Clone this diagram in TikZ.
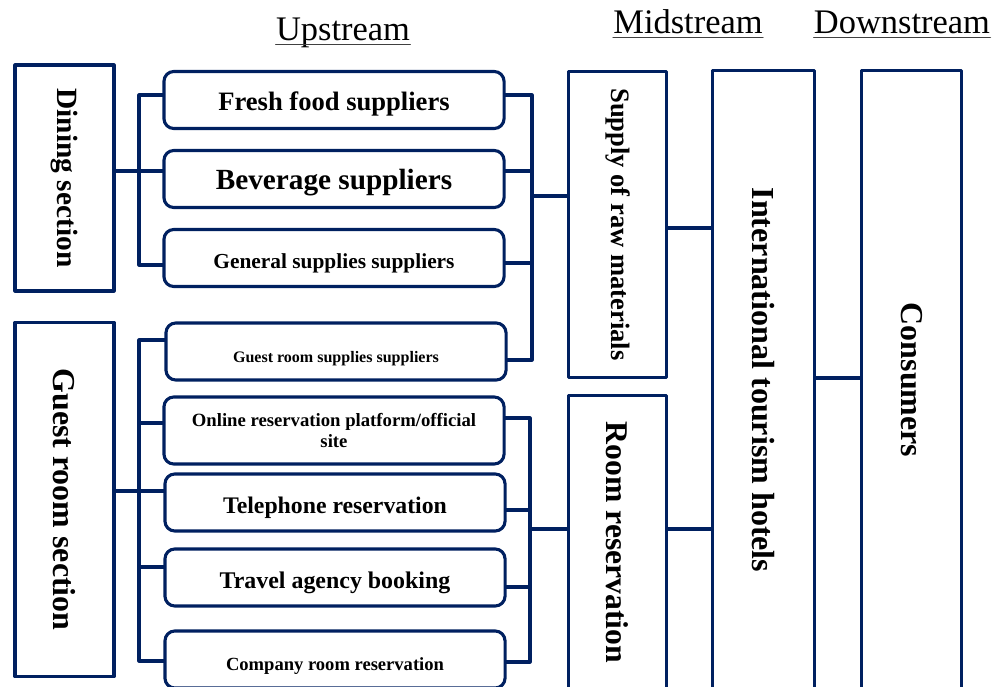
\documentclass[tikz,border=0pt]{standalone}
\usepackage{fontspec}
\setmainfont{Liberation Serif}
\usepackage{graphicx}
\definecolor{navy}{RGB}{0,32,96}
\newcommand{\vlabel}[2]{\rotatebox[origin=c]{-90}{\fontsize{#1}{#1}\selectfont\bfseries #2}}

\begin{document}
\begin{tikzpicture}[x=0.025cm, y=-0.025cm, line cap = round, line join = round]
\tikzstyle{sidebox}=[draw=navy, line width=2.2pt, fill=white, inner sep=0pt]
\tikzstyle{itembox}=[draw=navy, line width=2.2pt, fill=white, rounded corners=7pt, minimum width=8.5cm, minimum height=1.425cm, align=center, inner sep=0pt]
\tikzstyle{oneline}=[itembox, text height=18pt, text depth=2.6pt]
\tikzstyle{link}=[draw=navy, line width=2.2pt]
\tikzstyle{stage}=[inner sep=0pt, anchor=base, font=\fontsize{24.5}{28}\selectfont]
\useasboundingbox (0,0) rectangle (994,686);
\clip (0,0) rectangle (994,686);

% stage headers
\node[stage] (up) at (343,40) {Upstream};
\node[stage] (mid) at (688,33) {Midstream};
\node[stage] (down) at (902,33) {Downstream};
\draw[line width=1pt, black!75] ([yshift=-3pt]up.base west) -- ([yshift=-3pt]up.base east);
\draw[line width=1pt, black!75] ([yshift=-3pt]mid.base west) -- ([yshift=-3pt]mid.base east);
\draw[line width=1pt, black!75] ([yshift=-3pt]down.base west) -- ([yshift=-3pt]down.base east);

% sections
\node[sidebox, minimum width=2.475cm, minimum height=5.65cm] (dining) at (64.5,178) {\vlabel{20.9}{Dining section}};
\node[sidebox, minimum width=2.475cm, minimum height=8.85cm] (guest) at (64.5,499.5) {\vlabel{22.7}{Guest room section}};

% upstream items
\node[oneline, font=\fontsize{18.9}{22}\selectfont\bfseries] (fresh) at (334,100) {Fresh food suppliers};
\node[oneline, font=\fontsize{20.8}{24}\selectfont\bfseries] (bev) at (334,179) {Beverage suppliers};
\node[oneline, font=\fontsize{15.2}{18}\selectfont\bfseries] (general) at (334,258) {General supplies suppliers};
\node[oneline, font=\fontsize{11.4}{14}\selectfont\bfseries] (grsupply) at (336,351.5) {Guest room supplies suppliers};
\node[itembox, minimum height=1.675cm, font=\fontsize{13.3}{15.6}\selectfont\bfseries] (online) at (334,430.5) {Online reservation platform/official\\site};
\node[oneline, font=\fontsize{16.9}{20}\selectfont\bfseries] (phone) at (335,502.5) {Telephone reservation};
\node[oneline, font=\fontsize{17}{20}\selectfont\bfseries] (agency) at (335,577.5) {Travel agency booking};
\node[oneline, font=\fontsize{13.2}{16}\selectfont\bfseries] (company) at (335,659.5) {Company room reservation};

% midstream and downstream
\node[sidebox, minimum width=2.45cm, minimum height=7.65cm] (supply) at (617.5,224.5) {\vlabel{18.9}{Supply of raw materials}};
\node[sidebox, minimum width=2.45cm, minimum height=7.35cm] (roomres) at (617.5,542.5) {\vlabel{22.5}{Room reservation}};
\node[sidebox, minimum width=2.55cm, minimum height=15.45cm] (hotels) at (763.5,380) {\vlabel{22.8}{International tourism hotels}};
\node[sidebox, minimum width=2.5cm, minimum height=15.45cm] (consumers) at (911.5,380) {\vlabel{22.7}{Consumers}};

% dining branch
\coordinate (dinbus) at (139,171);
\draw[link] (dining.east |- dinbus) -- (bev.west |- dinbus);
\draw[link] (fresh.west |- 0,95) -| (dinbus) |- (general.west |- 0,265);

% guest room branch
\coordinate (gstbus) at (139,491);
\draw[link] (guest.east |- gstbus) -- (phone.west |- gstbus);
\draw[link] (grsupply.west |- 0,340) -| (gstbus) |- (company.west |- 0,661);
\draw[link] (gstbus |- 0,423) -- (online.west |- 0,423);
\draw[link] (gstbus |- 0,567) -- (agency.west |- 0,567);

% raw materials bracket
\coordinate (rawbus) at (532,196);
\draw[link] (fresh.east |- 0,95) -| (rawbus) |- (grsupply.east |- 0,360);
\draw[link] (bev.east |- 0,171) -- (rawbus |- 0,171);
\draw[link] (general.east |- 0,263) -- (rawbus |- 0,263);
\draw[link] (rawbus) -- (supply.west |- rawbus);

% reservation bracket
\coordinate (resbus) at (530,529);
\draw[link] (online.east |- 0,418) -| (resbus) |- (company.east |- 0,662);
\draw[link] (phone.east |- 0,510) -- (resbus |- 0,510);
\draw[link] (agency.east |- 0,587) -- (resbus |- 0,587);
\draw[link] (resbus) -- (roomres.west |- resbus);

% to hotels and consumers
\draw[link] (supply.east |- 0,228) -- (hotels.west |- 0,228);
\draw[link] (roomres.east |- resbus) -- (hotels.west |- resbus);
\draw[link] (hotels.east |- 0,378) -- (consumers.west |- 0,378);
\end{tikzpicture}
\end{document}
